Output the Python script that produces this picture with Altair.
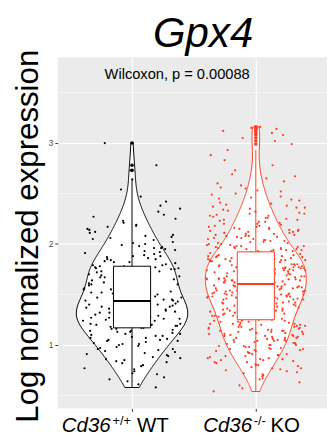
import altair as alt
import pandas as pd

# ---------------- data ----------------
groups = ["WT", "KO"]
positions = [1, 2]
colors = ["#000000", "#FF3B1F"]

wt_expr = [
    0.58, 0.61, 0.64,
    0.66, 0.68, 0.71, 0.72, 0.74,
    0.76, 0.77, 0.79, 0.80, 0.82, 0.83, 0.84,
    0.85, 0.86, 0.87, 0.88, 0.89, 0.90, 0.91, 0.92, 0.93, 0.94,
    0.95, 0.96, 0.96, 0.97, 0.98, 0.99, 1.00, 1.01, 1.01, 1.02, 1.03, 1.04, 1.04,
    1.05, 1.05, 1.06, 1.07, 1.07, 1.08, 1.09, 1.09, 1.10, 1.11, 1.11, 1.12, 1.13,
    1.13, 1.14, 1.14, 1.15, 1.16, 1.16,
    1.17, 1.17, 1.18, 1.18, 1.19, 1.19, 1.20, 1.20, 1.21, 1.21,
    1.22, 1.22, 1.23, 1.23, 1.23, 1.24, 1.24, 1.25, 1.25, 1.26,
    1.26, 1.27, 1.27, 1.28, 1.28, 1.28, 1.29, 1.29, 1.30, 1.30,
    1.31, 1.31, 1.32, 1.32, 1.33, 1.33, 1.33, 1.34, 1.34, 1.35,
    1.35, 1.36, 1.36, 1.37, 1.37, 1.38, 1.38, 1.39, 1.39, 1.40,
    1.40, 1.40, 1.41, 1.41, 1.42, 1.42, 1.42, 1.43,
    1.44, 1.44, 1.45, 1.45, 1.46, 1.47, 1.47, 1.48, 1.48, 1.49,
    1.50, 1.50, 1.51, 1.52, 1.52, 1.53, 1.53, 1.54, 1.55, 1.55,
    1.56, 1.57, 1.57, 1.58, 1.58, 1.59, 1.60, 1.60, 1.61, 1.62,
    1.62, 1.63, 1.63, 1.64, 1.65, 1.65, 1.66, 1.67, 1.67, 1.68,
    1.68, 1.69, 1.70, 1.70, 1.71, 1.72, 1.72, 1.73, 1.73, 1.74,
    1.75, 1.75, 1.76, 1.76, 1.77, 1.77, 1.78, 1.78,
    1.79, 1.79, 1.80, 1.81, 1.82, 1.82, 1.83, 1.84, 1.85, 1.85, 1.86, 1.87, 1.88, 1.88, 1.89,
    1.90, 1.91, 1.92, 1.93, 1.94, 1.95, 1.96, 1.96, 1.97, 1.98, 1.99,
    2.00, 2.01, 2.02, 2.04, 2.05, 2.06, 2.07, 2.08, 2.09,
    2.11, 2.12, 2.14, 2.15, 2.17, 2.18, 2.19,
    2.21, 2.23, 2.25, 2.27, 2.29,
    2.32, 2.35, 2.38,
    2.42, 2.47,
    2.54,
    2.64,
    2.73, 2.78, 3.00,
]

ko_expr = [
    0.54, 0.57, 0.60, 0.63,
    0.66, 0.67, 0.69, 0.70, 0.71, 0.72, 0.73, 0.74,
    0.75, 0.76, 0.77, 0.77, 0.78, 0.79, 0.80, 0.80, 0.81, 0.82, 0.83, 0.83, 0.84,
    0.85, 0.85, 0.86, 0.86, 0.87, 0.87, 0.88, 0.89, 0.89, 0.90, 0.90, 0.91, 0.91,
    0.92, 0.92, 0.93, 0.94, 0.94,
    0.95, 0.95, 0.96, 0.96, 0.96, 0.97, 0.97, 0.98, 0.98, 0.99, 0.99, 1.00, 1.00,
    1.00, 1.01, 1.01, 1.02, 1.02, 1.03, 1.03, 1.04, 1.04, 1.04,
    1.05, 1.05, 1.05, 1.06, 1.06, 1.07, 1.07, 1.07, 1.08, 1.08, 1.09, 1.09, 1.09,
    1.10, 1.10, 1.11, 1.11, 1.11, 1.12, 1.12, 1.13, 1.13, 1.13, 1.14, 1.14, 1.14,
    1.15, 1.15, 1.15, 1.16, 1.16, 1.16, 1.17, 1.17, 1.18, 1.18, 1.18, 1.19, 1.19,
    1.20, 1.20, 1.20, 1.21, 1.21, 1.21, 1.22, 1.22, 1.23, 1.23, 1.23, 1.24, 1.24,
    1.24, 1.25,
    1.25, 1.26, 1.26, 1.26, 1.27, 1.27, 1.27, 1.28, 1.28, 1.28, 1.29, 1.29, 1.29,
    1.30, 1.30, 1.30, 1.31, 1.31, 1.31, 1.32, 1.32, 1.32, 1.33, 1.33, 1.33, 1.34,
    1.34, 1.34,
    1.35, 1.35, 1.35, 1.36, 1.36, 1.36, 1.37, 1.37, 1.37, 1.38, 1.38, 1.38, 1.39,
    1.39, 1.39, 1.40, 1.40, 1.40, 1.41, 1.41, 1.41, 1.42, 1.42, 1.42, 1.43, 1.43,
    1.43, 1.44, 1.44, 1.44,
    1.45, 1.45, 1.45, 1.45, 1.46, 1.46, 1.46, 1.46, 1.47, 1.47, 1.47, 1.47,
    1.48, 1.48, 1.48, 1.48, 1.49, 1.49, 1.49, 1.49, 1.50, 1.50, 1.50, 1.50,
    1.51, 1.51, 1.51, 1.51, 1.52, 1.52, 1.52, 1.52, 1.53, 1.53, 1.53, 1.53,
    1.54, 1.54, 1.54, 1.54, 1.55, 1.55, 1.55, 1.55, 1.56, 1.56, 1.56, 1.56,
    1.57, 1.57, 1.57, 1.57, 1.58, 1.58, 1.58, 1.58, 1.59, 1.59, 1.59, 1.60,
    1.60, 1.60,
    1.61, 1.61, 1.61, 1.61, 1.62, 1.62, 1.62, 1.62, 1.63, 1.63, 1.63, 1.63,
    1.64, 1.64, 1.64, 1.64, 1.65, 1.65, 1.65, 1.65, 1.66, 1.66, 1.66, 1.66,
    1.67, 1.67, 1.67, 1.67, 1.68, 1.68, 1.68, 1.68, 1.69, 1.69, 1.69, 1.70,
    1.70, 1.70,
    1.71, 1.71, 1.71, 1.71, 1.72, 1.72, 1.72, 1.72, 1.73, 1.73, 1.73, 1.73,
    1.74, 1.74, 1.74, 1.74, 1.75, 1.75, 1.75, 1.75, 1.76, 1.76, 1.76, 1.76,
    1.77, 1.77, 1.77, 1.77, 1.78, 1.78, 1.78, 1.78, 1.79, 1.79, 1.79, 1.79,
    1.80, 1.80, 1.80, 1.80,
    1.81, 1.81, 1.81, 1.81, 1.82, 1.82, 1.82, 1.82, 1.83, 1.83, 1.83, 1.83,
    1.84, 1.84, 1.84, 1.84, 1.85, 1.85, 1.85, 1.85, 1.86, 1.86, 1.86, 1.86,
    1.87, 1.87, 1.87, 1.88, 1.88, 1.88, 1.89, 1.89, 1.89, 1.90, 1.90, 1.90,
    1.91, 1.91, 1.91, 1.92, 1.92, 1.92,
    1.93, 1.93, 1.93, 1.94, 1.94, 1.94, 1.95, 1.95, 1.95, 1.96, 1.96, 1.96,
    1.97, 1.97, 1.97, 1.98, 1.98, 1.98, 1.99, 1.99, 2.00, 2.00,
    2.01, 2.01, 2.02, 2.02, 2.03, 2.03, 2.04, 2.04, 2.05, 2.05, 2.06, 2.06,
    2.07, 2.07, 2.08, 2.08, 2.08, 2.09, 2.09, 2.10, 2.10,
    2.11, 2.11, 2.12, 2.12, 2.13, 2.13, 2.14, 2.14, 2.15, 2.15, 2.16, 2.16,
    2.17, 2.17, 2.18, 2.18, 2.19, 2.20, 2.20,
    2.21, 2.22, 2.22, 2.23, 2.24, 2.24, 2.25, 2.26, 2.26, 2.27, 2.28, 2.28,
    2.29, 2.30, 2.30,
    2.31, 2.32, 2.33, 2.34, 2.35, 2.36, 2.36, 2.37, 2.38, 2.39, 2.40,
    2.41, 2.43, 2.44, 2.45, 2.46, 2.47, 2.49, 2.50,
    2.52, 2.53, 2.55, 2.56, 2.58, 2.60,
    2.62, 2.65, 2.67, 2.69,
    2.73, 2.78,
    2.83, 2.88,
    2.93,
    2.99, 3.02, 3.05, 3.08, 3.10, 3.12, 3.14, 3.15, 3.16,
]

y_ticks = [1, 2, 3]
minor_breaks = [0.5, 1.5, 2.5, 3.5]
title_text = "Gpx4"
y_title = "Log normalized expression"
stat_label = "Wilcoxon, p = 0.00088"
x_gene = ["Cd36", "Cd36"]
x_sup = ["+/+", "-/-"]
x_geno = ["WT", "KO"]

# ---------------- tables ----------------
df = pd.DataFrame({
    "group": [groups[0]] * len(wt_expr) + [groups[1]] * len(ko_expr),
    "pos": [positions[0]] * len(wt_expr) + [positions[1]] * len(ko_expr),
    "value": wt_expr + ko_expr,
})

FONT = "Liberation Sans"
x_scale = alt.Scale(domain=[0.4, 2.575], nice=False, zero=False)
y_scale = alt.Scale(domain=[0.372, 3.85], nice=False, zero=False)
col_scale = alt.Scale(domain=groups, range=colors)

x_axis = alt.Axis(values=positions, labels=False, title=None, grid=True,
                  gridColor="white", gridWidth=1.1, domain=False, ticks=True,
                  tickSize=3, tickColor="#333333")
y_axis = alt.Axis(values=y_ticks, format="d", title=y_title, grid=True,
                  gridColor="white", gridWidth=1.1, domain=False, ticks=True,
                  tickSize=3, tickColor="#333333", labelFont=FONT,
                  labelFontSize=8.5, labelColor="#4D4D4D", labelPadding=2,
                  titleFont=FONT, titleFontSize=32, titleFontWeight="normal",
                  titleColor="black", titleAngle=270, titleX=-21, titleY=183,
                  titleAlign="center", titleBaseline="alphabetic")


def X(field):
    return alt.X(field, type="quantitative", scale=x_scale, axis=x_axis)


def Y(field):
    return alt.Y(field, type="quantitative", scale=y_scale, axis=y_axis)


def C(channel):
    return channel("group:N", scale=col_scale, legend=None)


base = alt.Chart(df)

# minor grid
minor = alt.Chart(pd.DataFrame({"b": minor_breaks})).mark_rule(
    color="white", strokeWidth=0.5).encode(y=Y("b"))

# violins (density computed by Vega, trimmed to data range, area-scaled)
violin = base.transform_joinaggregate(
    vmin="min(value)", vmax="max(value)", groupby=["group"]
).transform_density(
    "value", groupby=["group", "pos", "vmin", "vmax"], as_=["value", "density"],
    bandwidth=0.13, extent=[0.3, 3.3], steps=301
).transform_filter(
    "datum.value >= datum.vmin - 0.005 && datum.value <= datum.vmax + 0.005"
).transform_joinaggregate(
    dmax="max(density)"
).transform_calculate(
    xl="datum.pos - 0.45 * datum.density / datum.dmax",
    xr="datum.pos + 0.45 * datum.density / datum.dmax",
).mark_area(orient="horizontal", fill="white", strokeWidth=1).encode(
    y=Y("value"), x=X("xl"), x2="xr:Q", stroke=C(alt.Stroke)
)

# jittered points (deterministic hash jitter, width 0.4)
points = base.transform_window(
    rn="row_number()", groupby=["group"]
).transform_calculate(
    h="sin(datum.rn * 12.9898 + datum.pos * 78.233) * 43758.5453"
).transform_calculate(
    jx="datum.pos + 0.8 * ((datum.h - floor(datum.h)) - 0.5)"
).mark_circle(size=5, opacity=1).encode(
    x=X("jx"), y=Y("value"), color=C(alt.Color)
)

# boxplot pieces
fence = base.transform_joinaggregate(
    q1="q1(value)", q3="q3(value)", groupby=["group"]
).transform_calculate(
    lo="datum.q1 - 1.5 * (datum.q3 - datum.q1)",
    hi="datum.q3 + 1.5 * (datum.q3 - datum.q1)",
)
whisk = fence.transform_filter(
    "datum.value >= datum.lo && datum.value <= datum.hi"
).transform_aggregate(
    wmin="min(value)", wmax="max(value)", groupby=["group", "pos"]
).mark_rule(strokeWidth=1).encode(
    x=X("pos"), y=Y("wmin"), y2="wmax:Q", color=C(alt.Color)
)
stats = base.transform_aggregate(
    q1="q1(value)", med="median(value)", q3="q3(value)", groupby=["group", "pos"]
).transform_calculate(bl="datum.pos - 0.15", br="datum.pos + 0.15")
box = stats.mark_rect(fill="white", strokeWidth=1).encode(
    x=X("bl"), x2="br:Q", y=Y("q1"), y2="q3:Q", stroke=C(alt.Stroke)
)
med = stats.mark_rule(strokeWidth=2).encode(
    x=X("bl"), x2="br:Q", y=Y("med"), color=C(alt.Color)
)
outl = fence.transform_filter(
    "datum.value < datum.lo || datum.value > datum.hi"
).mark_circle(size=14, opacity=1).encode(
    x=X("pos"), y=Y("value"), color=C(alt.Color)
)

# annotation texts
wilcox = alt.Chart(pd.DataFrame({"t": [stat_label]})).mark_text(
    align="left", baseline="alphabetic", font=FONT, fontSize=15, color="black"
).encode(text="t:N", x=alt.value(48), y=alt.value(22))

title = alt.Chart(pd.DataFrame({"t": [title_text]})).mark_text(
    align="center", baseline="alphabetic", font=FONT, fontSize=43,
    fontStyle="italic", color="black"
).encode(text="t:N", x=alt.value(149), y=alt.value(-10))

# category labels: italic gene + superscript genotype + plain group
label_offsets = [(-72, -20, 5), (-54, -2, 15)]
label_layers = []
for i in range(2):
    d = pd.DataFrame({"pos": [positions[i]], "g": [x_gene[i]],
                      "s": [x_sup[i]], "w": [x_geno[i]]})
    dg, ds, dw = label_offsets[i]
    c = alt.Chart(d)
    label_layers.append(c.mark_text(
        align="left", baseline="alphabetic", font=FONT, fontSize=21,
        fontStyle="italic", color="black", dx=dg
    ).encode(text="g:N", x=X("pos"), y=alt.value(384)))
    label_layers.append(c.mark_text(
        align="left", baseline="alphabetic", font=FONT, fontSize=13,
        color="black", dx=ds, dy=-7
    ).encode(text="s:N", x=X("pos"), y=alt.value(384)))
    label_layers.append(c.mark_text(
        align="left", baseline="alphabetic", font=FONT, fontSize=21,
        color="black", dx=dw
    ).encode(text="w:N", x=X("pos"), y=alt.value(384)))

chart = alt.layer(
    minor, violin, points, whisk, box, med, outl, wilcox, title, *label_layers
).properties(
    width=276, height=360,
    autosize=alt.AutoSizeParams(type="none"),
    padding={"left": 51, "top": 45, "right": 0, "bottom": 30},
).configure_view(fill="#EBEBEB", stroke=None)

chart.save("out.html", embed_options={"renderer": "svg", "actions": False})
